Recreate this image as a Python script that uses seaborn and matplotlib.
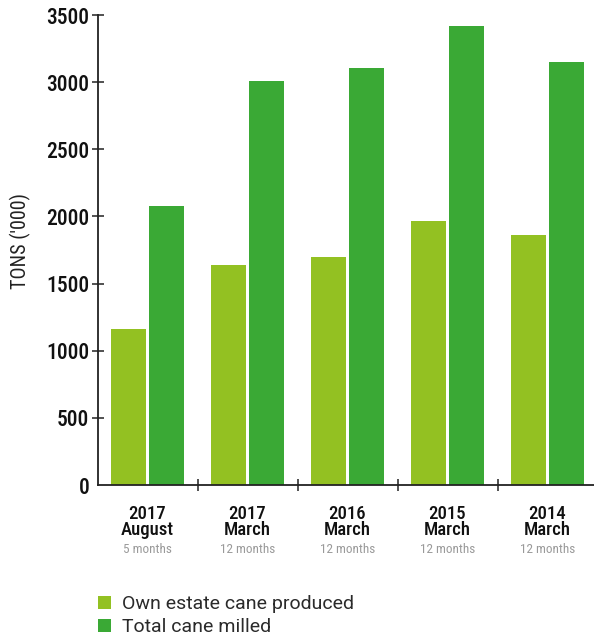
import matplotlib
matplotlib.use("Agg")
import matplotlib.pyplot as plt
from matplotlib import font_manager
from matplotlib.patches import Patch
import seaborn as sns
import pandas as pd

# Reporting periods and values (tons, thousands)
years = ["2017", "2017", "2016", "2015", "2014"]
months = ["August", "March", "March", "March", "March"]
durations = ["5 months", "12 months", "12 months", "12 months", "12 months"]
own_estate = [1160, 1640, 1700, 1965, 1860]
total_milled = [2080, 3010, 3105, 3420, 3150]
series_names = ["Own estate cane produced", "Total cane milled"]
colors = ["#93C122", "#3AA935"]

available = {f.name for f in font_manager.fontManager.ttflist}


def first_font(*names):
    for n in names:
        if n in available:
            return n
    return "DejaVu Sans"


narrow = first_font("Roboto Condensed", "Archivo Narrow", "Barlow Semi Condensed")
regular = first_font("Roboto", "Liberation Sans")

sns.set_theme(style="white")
plt.rcParams["font.family"] = [narrow, "DejaVu Sans"]

periods = [f"{y}\n{m}" for y, m in zip(years, months)]
df = pd.DataFrame({
    "period": periods * 2,
    "series": [series_names[0]] * len(periods) + [series_names[1]] * len(periods),
    "tons": own_estate + total_milled,
})

fig = plt.figure(figsize=(5.94, 6.39), dpi=100)
ax = fig.add_axes([97.5 / 594, 1 - 485 / 639, 1 - 97.5 / 594, 470 / 639])

sns.barplot(data=df, x="period", y="tons", hue="series", palette=colors,
            width=0.76, gap=0.053, saturation=1, linewidth=0, ax=ax,
            legend=False)

ax.set_ylim(0, 3500)
ax.set_xlim(-0.5, 4.465)
ax.set_yticks(range(0, 3501, 500))
ax.set_yticklabels([str(v) for v in range(0, 3501, 500)], fontsize=15.5,
                   color="#111111", fontweight="medium")

for side in ("top", "right"):
    ax.spines[side].set_visible(False)
for side in ("left", "bottom"):
    ax.spines[side].set_color("#222222")
    ax.spines[side].set_linewidth(1.3)

ax.tick_params(axis="y", direction="inout", length=9, width=1.1, color="#222222",
               pad=1.5, left=True)
ax.yaxis.get_major_ticks()[0].tick1line.set_visible(False)

# Group separators on the x axis
ax.set_xticks([0.5, 1.5, 2.5, 3.5], minor=True)
ax.tick_params(axis="x", which="minor", direction="inout", length=9, width=1.1,
               color="#222222", bottom=True)
ax.tick_params(axis="x", which="major", length=0)
ax.set_xticklabels([])
ax.set_xlabel("")
ax.set_ylabel("")

xform = ax.get_xaxis_transform()
for i, (y, m, d) in enumerate(zip(years, months, durations)):
    ax.text(i, -0.042, f"{y}\n{m}", transform=xform, ha="center", va="top",
            fontsize=13.5, linespacing=0.9, color="#111111", fontweight="medium")
    ax.text(i, -0.138, d, transform=xform, ha="center", va="center",
            fontsize=9.5, color="#9a9a9a")

fig.text(20 / 594, 1 - 241 / 639, "TONS ('000)", rotation=90, ha="center",
         va="center", fontsize=14.5, color="#222222")

handles = [Patch(facecolor=c, edgecolor="none") for c in colors]
leg = fig.legend(handles, series_names, loc="upper left",
                 bbox_to_anchor=(98 / 594, 1 - 595 / 639), frameon=False,
                 handlelength=0.65, handleheight=0.65, handletextpad=0.6,
                 labelspacing=0.28, borderaxespad=0, borderpad=0,
                 prop={"family": regular, "size": 14})
for t in leg.get_texts():
    t.set_color("#2a2a2a")

fig.savefig("out.png", dpi=100)
